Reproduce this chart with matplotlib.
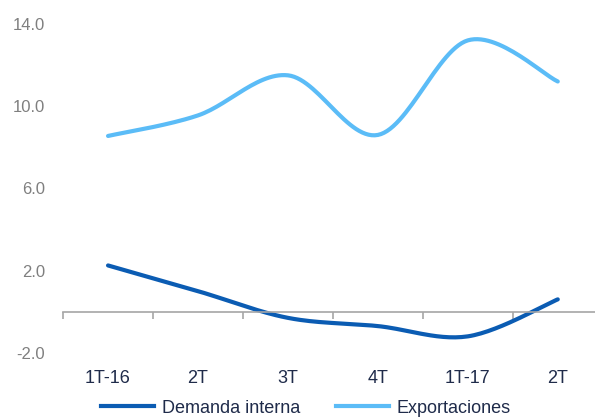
import matplotlib.pyplot as plt
import numpy as np
from matplotlib.lines import Line2D

plt.rcParams['font.family'] = ['Liberation Sans', 'DejaVu Sans']

quarters = ['1T-16', '2T', '3T', '4T', '1T-17', '2T']
demanda = [2.25, 1.0, -0.3, -0.7, -1.2, 0.6]
exportaciones = [8.55, 9.55, 11.5, 8.6, 13.2, 11.2]

def smooth(xs, ys, n=30):
    # catmull-rom style curve like the smoothed lines of a spreadsheet chart
    xs = np.asarray(xs, float)
    ys = np.asarray(ys, float)
    px = np.concatenate([[xs[0]], xs, [xs[-1]]])
    py = np.concatenate([[ys[0]], ys, [ys[-1]]])
    ox, oy = [], []
    t = np.linspace(0, 1, n)
    for i in range(1, len(px) - 2):
        p0, p1, p2, p3 = [np.array([px[j], py[j]]) for j in (i - 1, i, i + 1, i + 2)]
        c1 = p1 + (p2 - p0) / 6
        c2 = p2 - (p3 - p1) / 6
        pts = ((1 - t) ** 3)[:, None] * p1 + (3 * (1 - t) ** 2 * t)[:, None] * c1 \
            + (3 * (1 - t) * t ** 2)[:, None] * c2 + (t ** 3)[:, None] * p2
        ox.extend(pts[:, 0])
        oy.extend(pts[:, 1])
    return ox, oy

fig = plt.figure(figsize=(5.95, 4.2), dpi=100)
ax = fig.add_axes([0.106, 0.160, 0.907, 0.783])

x = np.arange(len(quarters))
c_dem = '#0B5CB3'
c_exp = '#5BBCF7'
sx, sy = smooth(x, demanda)
ax.plot(sx, sy, color=c_dem, lw=3, solid_capstyle='round')
sx, sy = smooth(x, exportaciones)
ax.plot(sx, sy, color=c_exp, lw=3, solid_capstyle='round')

ax.set_xlim(-0.5, 5.5)
ax.set_ylim(-2, 14)
ax.set_yticks([-2, 2, 6, 10, 14])
ax.set_yticklabels(['-2.0', '2.0', '6.0', '10.0', '14.0'])

for s in ['top', 'right', 'left']:
    ax.spines[s].set_visible(False)
ax.spines['bottom'].set_position(('data', 0))
ax.spines['bottom'].set_color('#A6A6A6')
ax.spines['bottom'].set_linewidth(1.2)

ax.set_xticks(x)
ax.set_xticklabels(quarters)
ax.set_xticks(np.arange(-0.5, 5.6, 1), minor=True)
ax.tick_params(axis='x', which='major', length=0, pad=42, labelsize=13, labelcolor='#1F2B4A')
ax.tick_params(axis='x', which='minor', length=5, width=1.2, color='#A6A6A6', direction='out')
ax.tick_params(axis='y', length=0, pad=13, labelsize=12, labelcolor='#7F7F7F')

handles = [Line2D([], [], color=c_dem, lw=3), Line2D([], [], color=c_exp, lw=3)]
fig.legend(handles, ['Demanda interna', 'Exportaciones'], loc='center', bbox_to_anchor=(0.514, 0.028),
           ncol=2, frameon=False, fontsize=13, handlelength=2.95, columnspacing=2.0, handletextpad=0.4,
           labelcolor='#1F2B4A')

fig.savefig('out.png', dpi=100)
